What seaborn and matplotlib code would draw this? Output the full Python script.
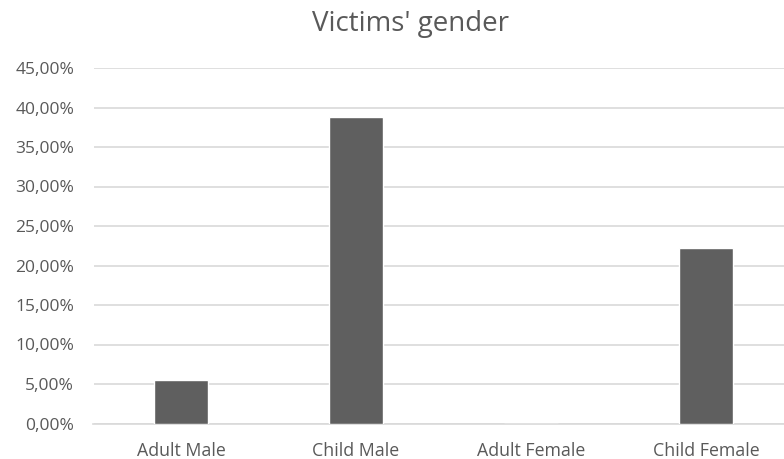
import matplotlib
matplotlib.use("Agg")
import matplotlib.pyplot as plt
import seaborn as sns
import pandas as pd
from matplotlib.ticker import FuncFormatter, MultipleLocator

# Share of victims by gender group (percent)
categories = ["Adult Male", "Child Male", "Adult Female", "Child Female"]
shares = [5.56, 38.75, 0.0, 22.22]

df = pd.DataFrame({"group": categories, "share": shares})

sns.set_theme(style="white")
plt.rcParams["font.family"] = ["Open Sans", "DejaVu Sans"]

text_col = "#595959"
grid_col = "#d9d9d9"
bar_col = "#5f5f5f"

fig = plt.figure(figsize=(7.84, 4.59), dpi=100)
W, H = 784, 459
ax = fig.add_axes([93.5 / W, 35.5 / H, 700 / W, 355.5 / H])

sns.barplot(data=df, x="group", y="share", color=bar_col, width=0.314,
            saturation=1, ax=ax, zorder=3)

ax.set_xlim(-0.5, 3.5)
ax.set_ylim(0, 45)
ax.yaxis.set_major_locator(MultipleLocator(5))
ax.yaxis.set_major_formatter(FuncFormatter(lambda v, p: f"{v:.2f}%".replace(".", ",")))
ax.grid(axis="y", color=grid_col, linewidth=1.2, zorder=0)
ax.grid(axis="x", visible=False)
for s in ["top", "right", "left"]:
    ax.spines[s].set_visible(False)
ax.spines["bottom"].set_color(grid_col)
ax.spines["bottom"].set_linewidth(1.2)
ax.set_xlabel("")
ax.set_ylabel("")
ax.tick_params(axis="y", length=0, pad=14, labelsize=12.5, labelcolor=text_col)
ax.tick_params(axis="x", length=0, pad=13.5, labelsize=12.8, labelcolor=text_col)

fig.text(410 / W, 1 - 24 / H, "Victims' gender", ha="center", va="center",
         fontsize=20, color=text_col)

fig.savefig("out.png", dpi=100, facecolor="white")
